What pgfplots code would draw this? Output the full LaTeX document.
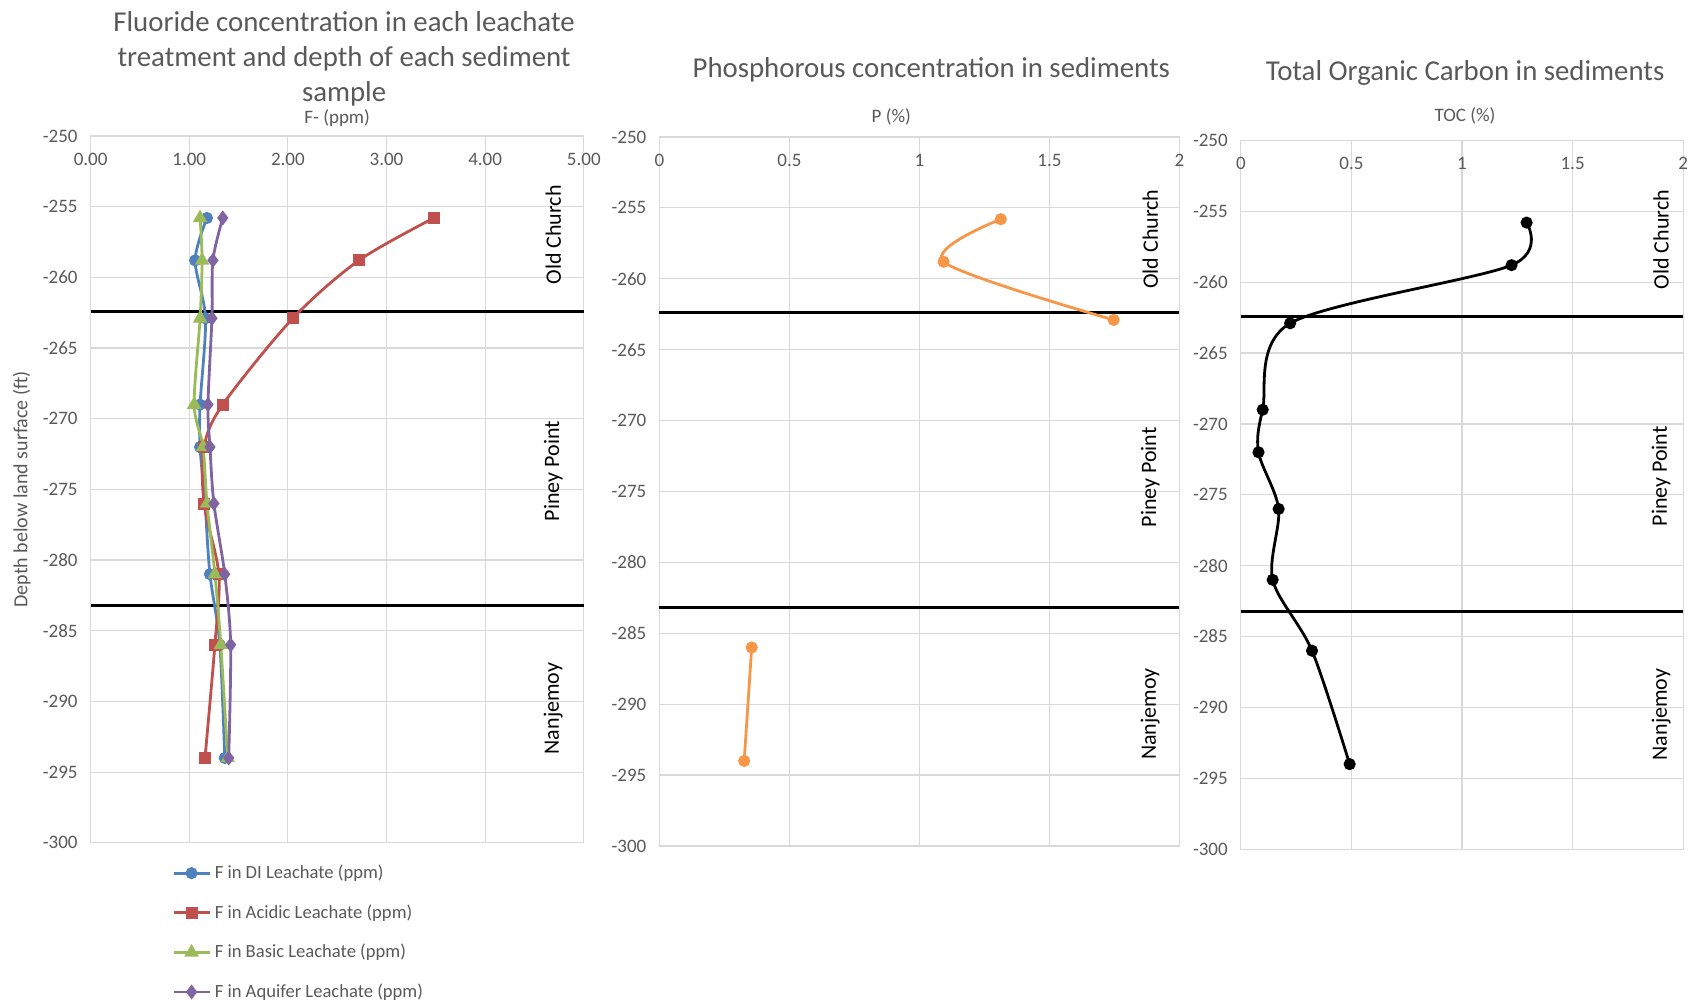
\documentclass[border=0pt]{standalone}
\usepackage{fontspec}
\setmainfont{Carlito}
\usepackage{pgfplots}
\pgfplotsset{compat=1.18}
\definecolor{txt}{HTML}{595959}
\definecolor{grd}{HTML}{D9D9D9}
\definecolor{cblue}{HTML}{4F81BD}
\definecolor{cred}{HTML}{C0504D}
\definecolor{cgreen}{HTML}{9BBB59}
\definecolor{cpurple}{HTML}{8064A2}
\definecolor{corange}{HTML}{F79646}
\tikzset{region/.style={rotate=90, font=\fontsize{11}{13}\selectfont, text=black}}
\pgfplotsset{
  panel/.style={
    scale only axis,
    anchor=south west,
    ymin=-300, ymax=-250,
    ytick={-300,-295,...,-250},
    yticklabels={-300,-295,-290,-285,-280,-275,-270,-265,-260,-255,-250},
    grid=major,
    major grid style={grd, line width=0.6pt},
    axis line style={grd, line width=0.6pt},
    tick style={draw=none},
    xticklabel pos=upper,
    xticklabel style={anchor=north, yshift=-5pt, font=\fontsize{9.5}{11}\selectfont, text=txt},
    yticklabel style={font=\fontsize{9.5}{11}\selectfont, text=txt, xshift=-3pt},
    /pgf/number format/assume math mode=true,
    xlabel style={font=\fontsize{9.5}{11}\selectfont, text=txt, anchor=center},
    title style={font=\fontsize{14.4}{17.5}\selectfont, text=txt, align=center, anchor=center},
    clip=false,
  },
}
\begin{document}
\begin{tikzpicture}
\useasboundingbox (0,0) rectangle (846pt,502pt);
% ---------------- Panel 1 ----------------
\begin{axis}[panel,
  at={(45.3pt,80.6pt)}, width=246.6pt, height=353.4pt,
  xmin=0, xmax=5, xtick={0,1,2,3,4,5},
  xticklabels={0.00,1.00,2.00,3.00,4.00,5.00},
  xlabel={F- (ppm)}, xlabel style={at={(axis description cs:0.5,1.026)}},
  ylabel={Depth below land surface (ft)},
  ylabel style={at={(axis description cs:-0.14,0.5)}, anchor=center, font=\fontsize{10}{12}\selectfont, text=txt},
  title={Fluoride concentration in each leachate\\treatment and depth of each sediment\\sample},
  title style={at={(axis description cs:0.514,1.092)}},
  legend style={at={(axis description cs:0.165,-0.025)}, anchor=north west, draw=none, fill=none,
    font=\fontsize{9.3}{11}\selectfont, text=txt, row sep=7.5pt, inner sep=0pt},
  legend cell align=left,
  legend image code/.code={\draw[mark repeat=2,mark phase=2,#1] plot coordinates {(0pt,0pt) (8.9pt,0pt) (17.8pt,0pt)};},
]
\addplot[black, line width=1.5pt, forget plot] coordinates {(0,-262.4) (5,-262.4)};
\addplot[black, line width=1.5pt, forget plot] coordinates {(0,-283.2) (5,-283.2)};
\addplot[cblue, line width=1.4pt, smooth, mark=*, mark size=2.3pt, mark options={fill=cblue}] coordinates {
 (1.18,-255.8) (1.06,-258.8) (1.165,-262.9) (1.11,-269) (1.11,-272) (1.16,-276) (1.21,-281) (1.31,-286) (1.36,-294)};
\addlegendentry{F in DI Leachate (ppm)}
\addplot[cred, line width=1.4pt, smooth, mark=square*, mark size=2.3pt, mark options={fill=cred}] coordinates {
 (3.48,-255.8) (2.72,-258.8) (2.05,-262.9) (1.34,-269) (1.15,-272) (1.15,-276) (1.30,-281) (1.26,-286) (1.16,-294)};
\addlegendentry{F in Acidic Leachate (ppm)}
\addplot[cgreen, line width=1.4pt, smooth, mark=triangle*, mark size=2.8pt, mark options={fill=cgreen}] coordinates {
 (1.11,-255.8) (1.13,-258.8) (1.11,-262.9) (1.05,-269) (1.14,-272) (1.18,-276) (1.26,-281) (1.32,-286) (1.39,-294)};
\addlegendentry{F in Basic Leachate (ppm)}
\addplot[cpurple, line width=1.4pt, smooth, mark=diamond*, mark size=2.6pt, mark options={fill=cpurple}] coordinates {
 (1.34,-255.8) (1.24,-258.8) (1.23,-262.9) (1.19,-269) (1.21,-272) (1.25,-276) (1.36,-281) (1.42,-286) (1.40,-294)};
\addlegendentry{F in Aquifer Leachate (ppm)}
\node[region] at (axis cs:4.69,-257.0) {Old Church};
\node[region] at (axis cs:4.69,-273.7) {Piney Point};
\node[region] at (axis cs:4.69,-290.5) {Nanjemoy};
\end{axis}
% ---------------- Panel 2 ----------------
\begin{axis}[panel,
  at={(329.7pt,79pt)}, width=260pt, height=354.5pt,
  xmin=0, xmax=2, xtick={0,0.5,1,1.5,2},
  xticklabels={0,0.5,1,1.5,2},
  xlabel={P (\%)}, xlabel style={at={(axis description cs:0.446,1.029)}},
  title={Phosphorous concentration in sediments},
  title style={at={(axis description cs:0.523,1.078)}},
]
\addplot[black, line width=1.5pt] coordinates {(0,-262.4) (2,-262.4)};
\addplot[black, line width=1.5pt] coordinates {(0,-283.2) (2,-283.2)};
\addplot[corange, line width=1.4pt, smooth, mark=*, mark size=2.3pt, mark options={fill=corange}] coordinates {
 (1.313,-255.8) (1.093,-258.8) (1.747,-262.9)};
\addplot[corange, line width=1.4pt, smooth, mark=*, mark size=2.3pt, mark options={fill=corange}] coordinates {
 (0.355,-286) (0.326,-294)};
\node[region] at (axis cs:1.888,-257.2) {Old Church};
\node[region] at (axis cs:1.888,-274.0) {Piney Point};
\node[region] at (axis cs:1.888,-290.7) {Nanjemoy};
\end{axis}
% ---------------- Panel 3 ----------------
\begin{axis}[panel,
  at={(620.4pt,77.4pt)}, width=221.2pt, height=354.4pt,
  xmin=0, xmax=2, xtick={0,0.5,1,1.5,2},
  xticklabels={0,0.5,1,1.5,2},
  xlabel={TOC (\%)}, xlabel style={at={(axis description cs:0.507,1.035)}},
  title={Total Organic Carbon in sediments},
  title style={at={(axis description cs:0.507,1.078)}},
]
\addplot[black, line width=1.5pt] coordinates {(0,-262.45) (2,-262.45)};
\addplot[black, line width=1.5pt] coordinates {(0,-283.2) (2,-283.2)};
\addplot[black, line width=1.4pt, smooth, mark=*, mark size=2.3pt] coordinates {
 (1.292,-255.8) (1.224,-258.8) (0.223,-262.9) (0.099,-269) (0.08,-272) (0.171,-276) (0.144,-281) (0.322,-286) (0.492,-294)};
\node[region] at (axis cs:1.90,-257.0) {Old Church};
\node[region] at (axis cs:1.90,-273.7) {Piney Point};
\node[region] at (axis cs:1.90,-290.5) {Nanjemoy};
\end{axis}
\end{tikzpicture}
\end{document}
